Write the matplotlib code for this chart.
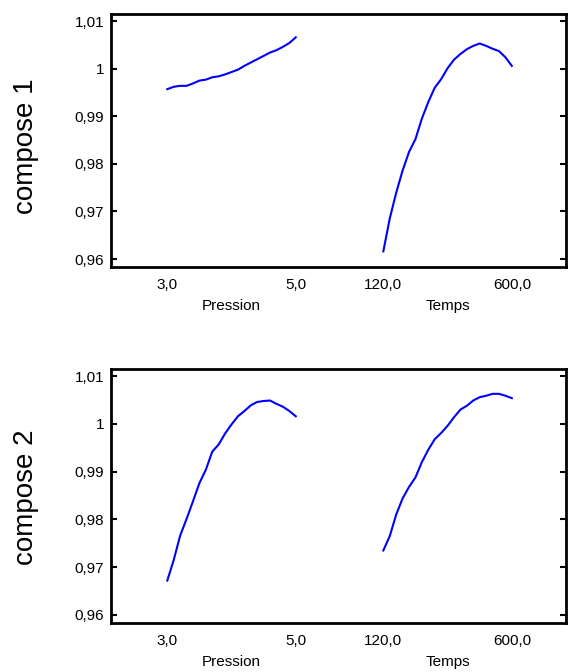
import matplotlib
matplotlib.use("Agg")
import matplotlib.pyplot as plt
import matplotlib.transforms as mtransforms

plt.rcParams['font.family'] = ['Liberation Sans', 'DejaVu Sans']

# ---- data ----
pression = [3.0, 3.1, 3.2, 3.3, 3.4, 3.5, 3.6, 3.7, 3.8, 3.9, 4.0,
            4.1, 4.2, 4.3, 4.4, 4.5, 4.6, 4.7, 4.8, 4.9, 5.0]
temps = [120, 144, 168, 192, 216, 240, 264, 288, 312, 336, 360,
         384, 408, 432, 456, 480, 504, 528, 552, 576, 600]

c1_pression = [0.9957, 0.9962, 0.9964, 0.9964, 0.9969, 0.9975, 0.9977, 0.9982,
               0.9984, 0.9988, 0.9993, 0.9998, 1.0006, 1.0013, 1.0020, 1.0027,
               1.0034, 1.0039, 1.0046, 1.0054, 1.0066]
c1_temps = [0.9616, 0.9685, 0.9739, 0.9786, 0.9825, 0.9852, 0.9895, 0.9930,
            0.9960, 0.9978, 1.0001, 1.0019, 1.0031, 1.0041, 1.0048, 1.0053,
            1.0048, 1.0042, 1.0037, 1.0024, 1.0006]
c2_pression = [0.9672, 0.9715, 0.9766, 0.9801, 0.9838, 0.9876, 0.9904, 0.9942,
               0.9957, 0.9980, 0.9999, 1.0016, 1.0027, 1.0039, 1.0046, 1.0048,
               1.0049, 1.0042, 1.0036, 1.0027, 1.0016]
c2_temps = [0.9735, 0.9765, 0.9810, 0.9844, 0.9868, 0.9888, 0.9920, 0.9946,
            0.9968, 0.9981, 0.9996, 1.0014, 1.0030, 1.0038, 1.0049, 1.0056,
            1.0059, 1.0063, 1.0063, 1.0059, 1.0054]

row_labels = ["compose 1", "compose 2"]
yticks = [0.96, 0.97, 0.98, 0.99, 1.00, 1.01]
ytick_labels = ["0,96", "0,97", "0,98", "0,99", "1", "1,01"]
pression_ticks = [3.0, 5.0]
pression_tick_labels = ["3,0", "5,0"]
temps_ticks = [120.0, 600.0]
temps_tick_labels = ["120,0", "600,0"]

# ---- layout ----
W, H = 568, 672
fig = plt.figure(figsize=(W / 100, H / 100), dpi=100)

panels = [
    (c1_pression, c1_temps, 14, 267, 146),
    (c2_pression, c2_temps, 369, 623, 497),
]
left_px, right_px = 111, 566
blue = "#0000ff"

for i, (yp, yt, top_px, bot_px, lab_y) in enumerate(panels):
    ax = fig.add_axes([left_px / W, 1 - bot_px / H,
                       (right_px - left_px) / W, (bot_px - top_px) / H])
    ax.set_xlim(2.124, 9.206)
    ax.set_ylim(0.95832, 1.0115)
    ax.plot(pression, yp, color=blue, lw=1.5)

    ax2 = ax.twiny()
    ax2.set_xlim(-897.2, 802.4)
    ax2.plot(temps, yt, color=blue, lw=1.5)
    ax2.xaxis.set_ticks_position('bottom')
    for s in ax2.spines.values():
        s.set_visible(False)

    for s in ax.spines.values():
        s.set_linewidth(2)
        s.set_color("black")

    ax.set_yticks(yticks)
    ax.set_yticklabels(ytick_labels)
    ax.tick_params(axis='y', which='both', direction='in', length=4, width=1.5,
                   left=True, right=True, labelsize=11, pad=5)
    ax.set_xticks(pression_ticks)
    ax.set_xticklabels(pression_tick_labels)
    ax.tick_params(axis='x', length=0, labelsize=11, pad=8)
    ax2.set_xticks(temps_ticks)
    ax2.set_xticklabels(temps_tick_labels)
    ax2.tick_params(axis='x', length=0, labelsize=11, pad=8, labelbottom=True,
                    labeltop=False, top=False)

    trans1 = mtransforms.blended_transform_factory(ax.transData, ax.transAxes)
    ax.text(4.0, -0.1265, "Pression", transform=trans1, ha='center', va='top',
            fontsize=11)
    trans2 = mtransforms.blended_transform_factory(ax2.transData, ax2.transAxes)
    ax2.text(360.0, -0.1265, "Temps", transform=trans2, ha='center', va='top',
             fontsize=11)

    fig.text(26 / W, 1 - lab_y / H, row_labels[i], rotation=90,
             ha='center', va='center', fontsize=20)

fig.savefig("out.png", dpi=100)
